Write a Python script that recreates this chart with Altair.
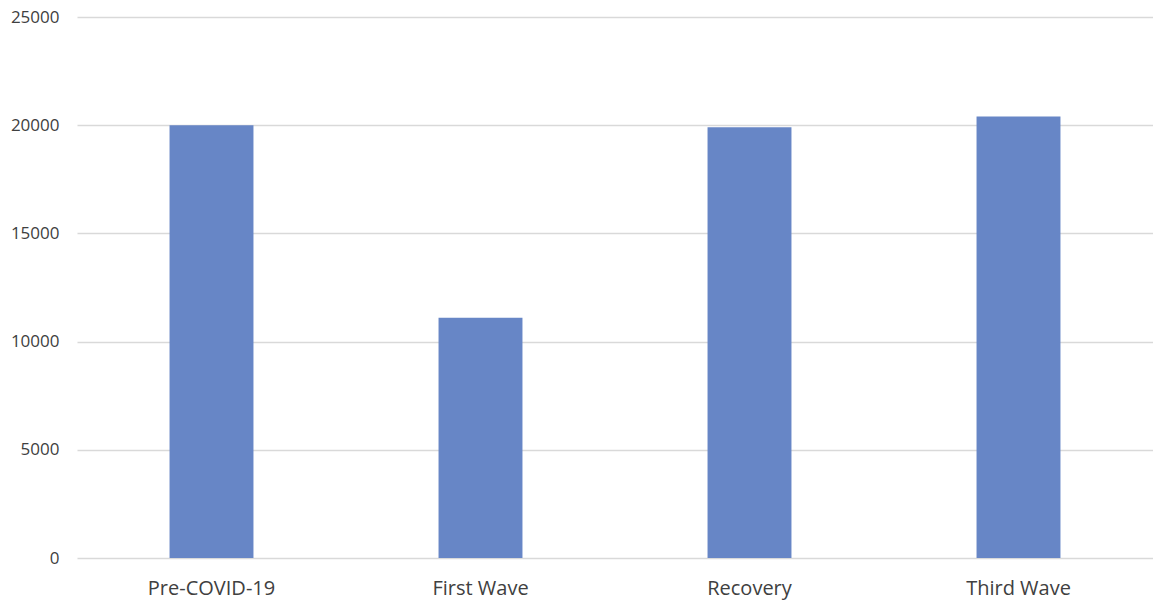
import altair as alt
import pandas as pd

categories = ["Pre-COVID-19", "First Wave", "Recovery", "Third Wave"]
values = [20000, 11100, 19900, 20400]

df = pd.DataFrame({"period": categories, "value": values})

chart = alt.Chart(df).mark_bar(
    color="#6786C6", width=alt.RelativeBandSize(0.312)
).encode(
    x=alt.X("period:N", sort=categories, title=None,
            scale=alt.Scale(paddingInner=0, paddingOuter=0),
            axis=alt.Axis(labelAngle=0, domain=False, ticks=False, labelPadding=20,
                          labelFontSize=20, labelColor="#404040", labelFont="Open Sans")),
    y=alt.Y("value:Q", title=None,
            scale=alt.Scale(domain=[0, 25000], nice=False),
            axis=alt.Axis(values=[0, 5000, 10000, 15000, 20000, 25000], format="d",
                          domain=False, ticks=False, labelPadding=18,
                          labelFontSize=17, labelColor="#404040", labelFont="Open Sans",
                          gridColor="#D9D9D9", gridWidth=1.3)),
).properties(
    width=1076, height=541,
    autosize=alt.AutoSizeParams(type="none"),
    padding={"left": 77, "top": 17, "right": 0, "bottom": 43},
).configure_view(stroke=None)

chart.save("out.html", embed_options={"renderer": "svg", "actions": False})
